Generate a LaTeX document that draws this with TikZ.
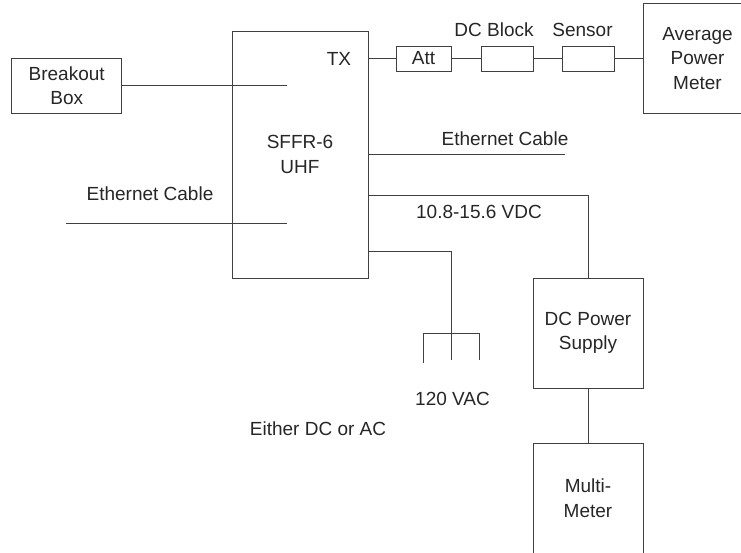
\documentclass[tikz,border=0pt]{standalone}
\usepackage{fontspec}
\setmainfont{Liberation Sans}
\definecolor{linec}{gray}{0.25}
\definecolor{textc}{gray}{0.15}
\begin{document}
\begin{tikzpicture}[x=1pt,y=-1pt,
  box/.style={draw=linec, line width=1pt, inner sep=0pt, align=center, text=textc,
    font=\fontsize{19}{24.5}\selectfont},
  lbl/.style={inner sep=0pt, text=textc, align=center, font=\fontsize{19}{24.5}\selectfont},
  wire/.style={draw=linec, line width=1pt}]
\useasboundingbox (0,0) rectangle (741,552);

% boxes
\node[box, minimum width=136pt, minimum height=247pt] (sffr) at (300,154.5) {SFFR-6\\UHF};
\node[box, minimum width=110pt, minimum height=55pt] (bb) at (66.7,85.8) {Breakout\\Box};
\node[box, minimum width=55pt, minimum height=25pt] (att) at (423.5,58.5) {Att};
\node[box, minimum width=52pt, minimum height=25pt] (dcb) at (507,58.5) {};
\node[box, minimum width=52pt, minimum height=25pt] (sens) at (588,58.5) {};
\node[box, minimum width=109pt, minimum height=110pt] (apm) at (697.5,58.5) {Average\\Power\\Meter};
\node[box, minimum width=110pt, minimum height=110pt] (dcps) at (588,333) {DC Power\\Supply};
\node[box, minimum width=110pt, minimum height=110pt] (mm) at (588,498) {Multi-\\Meter};

% labels
\node[lbl] (tx) at (339,59) {TX};
\node[lbl] (ldcb) at (494,30) {DC Block};
\node[lbl] (lsens) at (582.5,30) {Sensor};
\node[lbl] (leth1) at (505,139) {Ethernet Cable};
\node[lbl] (leth2) at (150,193.5) {Ethernet Cable};
\node[lbl] (lvdc) at (479,211.7) {10.8-15.6 VDC};
\node[lbl] (lvac) at (452.5,399) {120 VAC};
\node[lbl] (lor) at (318,429) {Either DC or AC};

% coordinates
\coordinate (bbend) at (286.7,85.7);
\coordinate (ethR) at (565,154.3);
\coordinate (ethLa) at (66,223.3);
\coordinate (ethLb) at (286.7,223.3);
\coordinate (pwr) at (368,195.3);
\coordinate (acs) at (368,251);
\coordinate (acc) at (451,251);
\coordinate (pstem) at (451,360);
\coordinate (pbarL) at (423,333);
\coordinate (pbarR) at (479,333);
\coordinate (plegL) at (423,363);
\coordinate (plegR) at (479,360);

% connectors
\draw[wire] (bb.east |- bbend) -- (bbend);
\draw[wire] (att.west -| sffr.east) -- (att.west);
\draw[wire] (att.east) -- (dcb.west);
\draw[wire] (dcb.east) -- (sens.west);
\draw[wire] (sens.east) -- (apm.west |- sens.east);
\draw[wire] (ethR -| sffr.east) -- (ethR);
\draw[wire] (ethLa) -- (ethLb);
\draw[wire] (pwr -| sffr.east) -- (pwr -| dcps.north) -- (dcps.north);
\draw[wire] (dcps.south) -- (mm.north);
\draw[wire] (acs -| sffr.east) -- (acc) -- (pstem);
\draw[wire] (pbarL) -- (pbarR) -- (plegR);
\draw[wire] (pbarL) -- (plegL);
\end{tikzpicture}
\end{document}
